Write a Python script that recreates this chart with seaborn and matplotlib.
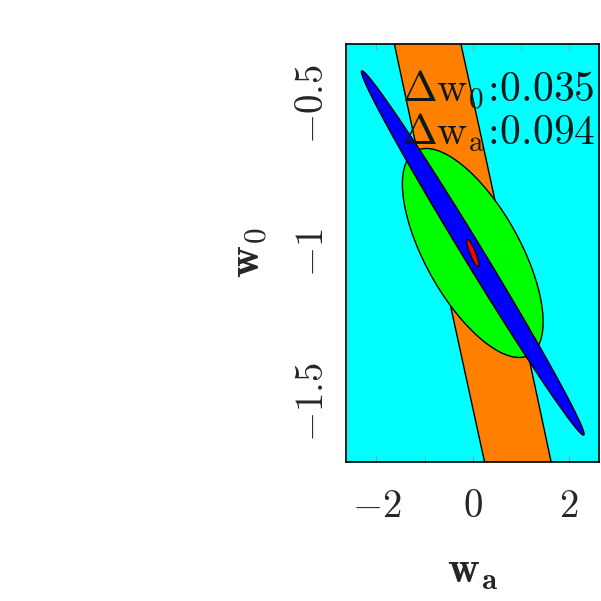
import numpy as np
import matplotlib
matplotlib.use('Agg')
import matplotlib.pyplot as plt
import seaborn as sns

sns.set_style('ticks')
plt.rcParams['mathtext.fontset'] = 'cm'
plt.rcParams['font.family'] = ['DejaVu Sans']

# fiducial model
centre_wa = 0.0
centre_w0 = -1.0

# contours: half extent in wa, half extent in w0, correlation
names = ['probe A', 'probe B', 'probe C', 'combined']
colors = ['#ff7f00', '#00ff00', '#0000ff', '#ff0000']
ext_wa = [6.72, 1.46, 2.31, 0.125]
ext_w0 = [5.0, 0.35, 0.61, 0.046]
corr = [-0.9946, -0.66, -0.9945, -0.87]

# marginalised errors of the combined contour
err_w0 = 0.035
err_wa = 0.094

xticks = [-2, 0, 2]
xticklabels = [r'$-2$', r'$0$', r'$2$']
yticks = [-1.5, -1.0, -0.5]
yticklabels = [r'$-1.5$', r'$-1$', r'$-0.5$']

fig = plt.figure(figsize=(6.01, 6.01), dpi=100)
ax = fig.add_axes([0.5757, 0.2313, 0.421, 0.6955])
ax.set_facecolor('#00ffff')

t = np.linspace(0, 2 * np.pi, 600)
for sx, sy, rho, c in zip(ext_wa, ext_w0, corr, colors):
    x = centre_wa + sx * np.cos(t)
    y = centre_w0 + sy * (rho * np.cos(t) + np.sqrt(1 - rho ** 2) * np.sin(t))
    ax.fill(x, y, facecolor=c, edgecolor='black', linewidth=1.0)

ax.set_xlim(-2.63, 2.62)
ax.set_ylim(-1.7, -0.3)

ax.set_xticks(xticks)
ax.set_xticklabels(xticklabels, fontsize=28)
ax.set_xticks([-1, 1], minor=True)
ax.set_yticks(yticks)
ax.set_yticklabels(yticklabels, fontsize=28, rotation=90, va='center')
ax.tick_params(axis='x', which='both', direction='in', length=4, color='#999999',
               top=True, pad=18)
ax.tick_params(axis='y', which='both', length=0, pad=11)

ax.set_xlabel(r'$\mathbf{w_a}$', fontsize=32, labelpad=17)
ax.set_ylabel(r'$\mathbf{w_0}$', fontsize=32, labelpad=16)

for s in ax.spines.values():
    s.set_linewidth(1.2)
    s.set_color('black')

ax.text(0.221, 0.861, r'$\Delta \mathrm{w}_0\!:\!0.035$', transform=ax.transAxes,
        fontsize=30, va='baseline', ha='left', color='#0a1a1a')
ax.text(0.221, 0.758, r'$\Delta \mathrm{w}_\mathrm{a}\!:\!0.094$', transform=ax.transAxes,
        fontsize=30, va='baseline', ha='left', color='#0a1a1a')

fig.savefig('out.png', dpi=100)
